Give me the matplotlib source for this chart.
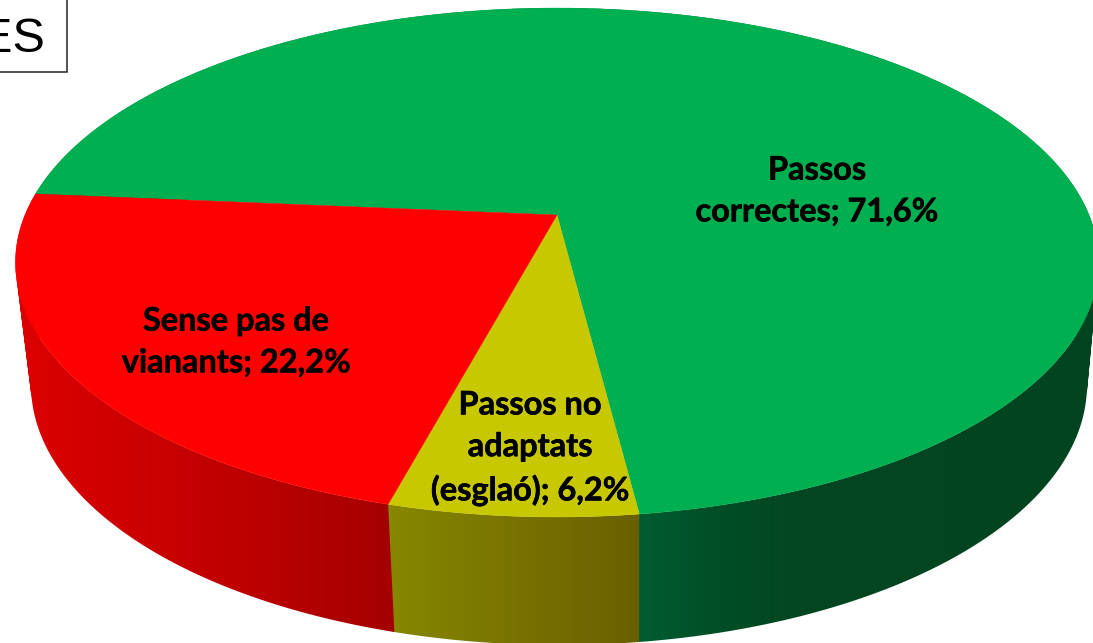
import matplotlib

matplotlib.use("Agg")
import matplotlib.patheffects as pe
import matplotlib.pyplot as plt
import numpy as np
from matplotlib.colors import to_rgb
from matplotlib.patches import PathPatch, Polygon, Rectangle
from matplotlib.path import Path

categories = ["Passos\ncorrectes", "Passos no\nadaptats\n(esglaó)", "Sense pas de\nvianants"]
values = [71.6, 6.2, 22.2]
top_colors = ["#00B050", "#C8C800", "#FF0000"]
label_pos = [(817, 191), (530, 448), (236, 342)]

# side shading: (pixel x, colour) going left to right
side_stops = [
    [(640, "#005C30"), (720, "#004E26"), (800, "#034620"), (1093, "#034420")],
    [(390, "#878700"), (640, "#695F00")],
    [(20, "#DC0000"), (200, "#C40000"), (395, "#A40000")],
]

START_ANGLE = 175.0
K = 0.1867  # perspective strength of the disc


def project(angles, x0, y0, a, b):
    "Perspective projection of points on the unit circle to pixel coordinates"
    u, v = np.cos(angles), np.sin(angles)
    w = 1 + K * v
    return x0 + a * u / w, y0 - b * v / w


def wall_path(theta, top, bottom):
    "Wall of the disc between two angles, as a row of small quads"
    xt, yt = project(theta, *top)
    xb, yb = project(theta, *bottom)
    verts, codes = [], []
    for jj in range(len(theta) - 1):
        quad = [(xt[jj], yt[jj]), (xt[jj + 1], yt[jj + 1]), (xb[jj + 1], yb[jj + 1]), (xb[jj], yb[jj])]
        # all quads wound the same way, or they cancel where the wall folds
        qx, qy = np.array(quad).T
        if np.dot(qx, np.roll(qy, -1)) - np.dot(qy, np.roll(qx, -1)) < 0:
            quad = quad[::-1]
        verts += quad + [quad[0]]
        codes += [Path.MOVETO, Path.LINETO, Path.LINETO, Path.LINETO, Path.CLOSEPOLY]
    return Path(verts, codes)


def gradient_image(stops):
    "One row of pixels across the figure, shaded from the stops"
    xs = np.arange(1093)
    px = [s[0] for s in stops]
    rgb = np.array([to_rgb(s[1]) for s in stops])
    return np.stack([np.interp(xs, px, rgb[:, c]) for c in range(3)], axis=1)[np.newaxis, :, :]


fig = plt.figure(figsize=(10.93, 6.43), dpi=100)
ax = fig.add_axes([0, 0, 1, 1])
ax.set_xlim(0, 1093)
ax.set_ylim(643, 0)
ax.axis("off")

top = (557, 215, 532, 245.6)
bottom = (559, 336.5, 518.7, 250.9)

edges = START_ANGLE - 3.6 * np.cumsum([0] + values)

# sides first, the top of the disc covers whatever sticks out
for ii in range(len(values)):
    theta = np.radians(np.linspace(edges[ii], edges[ii + 1] - 0.2, 300))
    clip = PathPatch(wall_path(theta, top, bottom), transform=ax.transData, fc="none", ec="none")
    ax.add_patch(clip)
    im = ax.imshow(gradient_image(side_stops[ii]), extent=(0, 1093, 643, 0), aspect="auto", zorder=1 + ii * 0.1)
    im.set_clip_path(clip)

for ii in range(len(values)):
    theta = np.radians(np.linspace(edges[ii], edges[ii + 1], 400))
    xt, yt = project(theta, *top)
    pts = np.column_stack([np.r_[top[0], xt], np.r_[top[1], yt]])
    ax.add_patch(Polygon(pts, closed=True, fc=top_colors[ii], ec=top_colors[ii], lw=0.3, zorder=2))

for cat, val, (lx, ly) in zip(categories, values, label_pos):
    txt = f"{cat}; {val:.1f}%".replace(".", ",")
    ax.text(lx, ly, txt, ha="center", va="center", family="Lato", weight="bold",
            fontsize=23.4, color="black", linespacing=1.53, zorder=3,
            path_effects=[pe.withStroke(linewidth=0.4, foreground="black")])

ax.add_patch(Rectangle((-10, -10), 77, 82, fc="white", ec="#222222", lw=1.1, zorder=4))
ax.text(45, 52, "ES", ha="right", va="baseline", family="Liberation Sans",
        fontsize=35, color="black", zorder=5)

ax.set_xlim(0, 1093)
ax.set_ylim(643, 0)
fig.savefig("out.png", dpi=100)
